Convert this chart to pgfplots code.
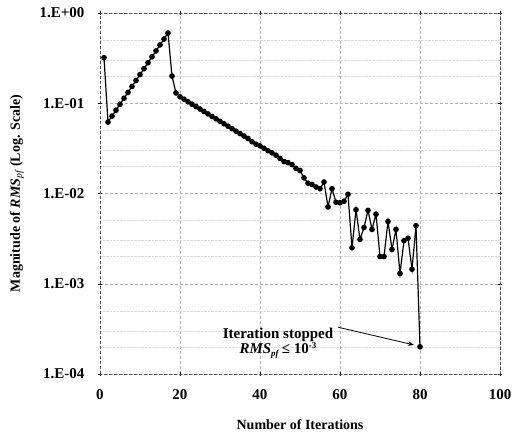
\documentclass[border=0pt]{standalone}
\usepackage{pgfplots}
\pgfplotsset{compat=1.18}
\usepackage{fontspec}
\setmainfont{Liberation Serif}
\usetikzlibrary{arrows.meta}

\begin{document}
\begin{tikzpicture}
\begin{axis}[
    width=400pt, height=361pt, scale only axis,
    ymode=log, xmin=0, xmax=100, ymin=1e-4, ymax=1,
    xtick={0,20,...,100},
    ytick={1e-4,1e-3,1e-2,1e-1,1},
    yticklabels={1.E-04,1.E-03,1.E-02,1.E-01,1.E+00},
    /pgf/number format/assume math mode=true,
    tick label style={font=\bfseries\fontsize{15}{15}\selectfont},
    yticklabel style={xshift=-10pt},
    xticklabel style={yshift=-10pt},
    label style={font=\bfseries\fontsize{14}{14}\selectfont},
    xlabel={Number of Iterations},
    ylabel={Magnitude of \textit{RMS}$_{\mathit{pf}}$ (Log. Scale)},
    xlabel style={at={(axis description cs:0.5,-0.1413)}, anchor=center},
    ylabel style={at={(axis description cs:-0.2075,0.5)}, anchor=center},
    axis line style={gray!60!black, densely dashed},
    major grid style={gray!60, densely dashed},
    minor grid style={gray!30, densely dotted},
    xmajorgrids, ymajorgrids, yminorgrids,
    minor ytick={2e-4,3e-4,5e-4,2e-3,3e-3,5e-3,2e-2,3e-2,5e-2,2e-1,3e-1,5e-1},
    tick style={black, solid},
    major tick length=4pt, minor tick length=0pt,
    tick align=center,
  ]
  \addplot[black, very thick, mark=*, mark size=2.2pt] coordinates {
    (1,0.32) (2,0.0619) (3,0.0721) (4,0.0838) (5,0.0975) (6,0.1135) (7,0.132)
    (8,0.1535) (9,0.1786) (10,0.208) (11,0.2417) (12,0.281) (13,0.327)
    (14,0.380) (15,0.443) (16,0.515) (17,0.600) (18,0.20) (19,0.13)
    (20,0.118) (21,0.111) (22,0.104) (23,0.0978) (24,0.0919) (25,0.0863)
    (26,0.0811) (27,0.0762) (28,0.0715) (29,0.0672) (30,0.0631) (31,0.0593)
    (32,0.0557) (33,0.0523) (34,0.0491) (35,0.0461) (36,0.0433) (37,0.0407)
    (38,0.0375) (39,0.0352) (40,0.0337) (41,0.0317) (42,0.0298) (43,0.0282)
    (44,0.0266) (45,0.0245) (46,0.0226) (47,0.0220) (48,0.0209) (49,0.0190)
    (50,0.0180) (51,0.0149) (52,0.0130) (53,0.0126) (54,0.0118) (55,0.0113)
    (56,0.0134) (57,0.0071) (58,0.0113) (59,0.0080) (60,0.0079) (61,0.0082)
    (62,0.0098) (63,0.0025) (64,0.0066) (65,0.0031) (66,0.0042) (67,0.0065)
    (68,0.0040) (69,0.0059) (70,0.0020) (71,0.0020) (72,0.0049) (73,0.0024)
    (74,0.0040) (75,0.0013) (76,0.0030) (77,0.0032) (78,0.00145) (79,0.0044)
    (80,0.0002)
  };
  \node[font=\bfseries\fontsize{15}{15}\selectfont, align=center] at (axis cs:44.5,2.2e-4)
    {Iteration stopped\\[0pt]\textit{RMS}\raisebox{-3pt}{\fontsize{9}{9}\selectfont\textit{pf}}\,≤ 10\raisebox{5pt}{\fontsize{9}{9}\selectfont -3}};
  \draw[-{Stealth[length=6pt]}, thick, black] (axis cs:59.5,3.3e-4) -- (axis cs:78.5,2.1e-4);
\end{axis}
\path (current axis.south west) ++(-100pt,-65pt) coordinate (bbA);
\path (current axis.north east) ++(20pt,13pt) coordinate (bbB);
\path[use as bounding box] (bbA) rectangle (bbB);
\end{tikzpicture}
\end{document}
